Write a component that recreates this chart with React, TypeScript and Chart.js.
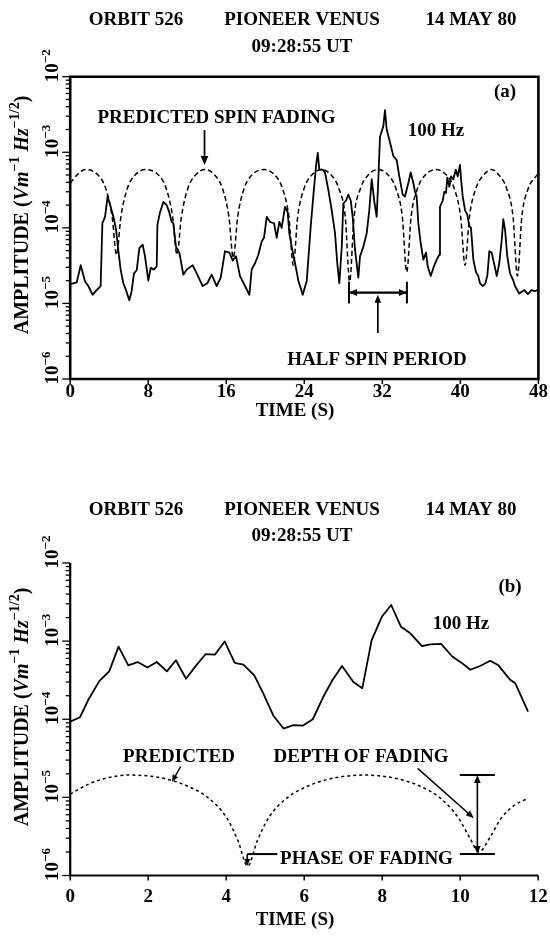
import { useEffect, useRef } from 'react';
import { Chart, registerables } from 'chart.js';

Chart.register(...registerables);

const SERIF = '"Liberation Serif", "Times New Roman", serif';

// ---------- panel (a): 100 Hz channel over 48 s ----------
const timeA = [
  0, 0.67, 1.08, 1.52, 1.86, 2.3, 2.71, 3.12, 3.3, 3.57,
  3.84, 4.15, 4.49, 4.7, 4.93, 5.17, 5.45, 5.72, 6.06, 6.3,
  6.54, 6.82, 7.09, 7.43, 7.67, 8.01, 8.25, 8.59, 8.87, 8.94,
  9.21, 9.55, 9.89, 10.16, 10.4, 10.57, 10.85, 11.19, 11.6, 11.94,
  12.55, 12.97, 13.58, 14.06, 14.5, 15.02, 15.43, 15.87, 16.32, 16.66,
  17.0, 17.41, 17.92, 18.37, 18.6, 18.95, 19.29, 19.63, 19.87, 20.15,
  20.48, 20.9, 21.17, 21.44, 21.68, 22.02, 22.3, 22.46, 22.71, 23.05,
  23.39, 23.84, 24.25, 24.66, 24.92, 25.2, 25.38, 25.54, 25.89, 26.12,
  26.46, 26.81, 27.15, 27.38, 27.59, 27.84, 28.0, 28.28, 28.51, 28.76,
  28.96, 29.2, 29.54, 29.71, 30.05, 30.4, 30.66, 30.91, 31.18, 31.42,
  31.59, 31.76, 32.1, 32.27, 32.45, 32.79, 33.13, 33.47, 33.74, 34.09,
  34.32, 34.66, 34.91, 35.18, 35.35, 35.52, 35.69, 35.93, 36.2, 36.48,
  36.65, 36.96, 37.23, 37.57, 37.84, 37.91, 38.19, 38.35, 38.53, 38.66,
  38.87, 39.04, 39.28, 39.52, 39.73, 39.96, 40.06, 40.24, 40.48, 40.71,
  40.92, 41.09, 41.33, 41.6, 41.84, 42.01, 42.29, 42.53, 42.76, 42.97,
  43.21, 43.45, 43.73, 43.99, 44.24, 44.4, 44.58, 44.81, 45.09, 45.43,
  45.6, 46.03, 46.57, 46.93, 47.28, 47.64, 47.9,
];
const ampA = [
  1.8e-5, 1.9e-5, 3.2e-5, 1.95e-5, 1.7e-5, 1.3e-5, 1.5e-5, 1.7e-5, 1.15e-4, 1.4e-4,
  2.6e-4, 1.9e-4, 1.3e-4, 9.5e-5, 5.1e-5, 2.8e-5, 1.85e-5, 1.5e-5, 1.1e-5, 1.45e-5,
  2.5e-5, 2.75e-5, 5.4e-5, 6.0e-5, 4.2e-5, 2.0e-5, 2.95e-5, 2.8e-5, 3.1e-5, 1.1e-4,
  1.6e-4, 2.2e-4, 2.0e-4, 1.6e-4, 1.2e-4, 1.15e-4, 5.6e-5, 4.7e-5, 2.4e-5, 2.8e-5,
  3.2e-5, 2.5e-5, 1.7e-5, 1.85e-5, 2.4e-5, 1.7e-5, 2.2e-5, 4.9e-5, 4.7e-5, 3.7e-5,
  4.2e-5, 2.3e-5, 1.7e-5, 1.3e-5, 2.8e-5, 3.4e-5, 4.4e-5, 6.6e-5, 7.4e-5, 1.4e-4,
  1.2e-4, 1.15e-4, 7.4e-5, 1.2e-4, 1.0e-4, 1.9e-4, 1.6e-4, 8.5e-5, 5.6e-5, 3.4e-5,
  2.0e-5, 1.3e-5, 2.0e-5, 1.05e-4, 2.6e-4, 6.5e-4, 9.8e-4, 5.9e-4, 5.9e-4, 5.4e-4,
  3.2e-4, 1.7e-4, 8.5e-5, 3.4e-5, 1.85e-5, 5.6e-5, 2.1e-4, 2.3e-4, 2.75e-4, 2.3e-4,
  1.4e-4, 5.1e-5, 2.2e-5, 4.2e-5, 5.6e-5, 8.5e-5, 1.7e-4, 4.4e-4, 2.2e-4, 1.4e-4,
  4.4e-4, 1.6e-3, 2.2e-3, 3.6e-3, 2.0e-3, 1.35e-3, 8.9e-4, 7.9e-4, 4.8e-4, 2.75e-4,
  2.6e-4, 3.9e-4, 5.4e-4, 3.9e-4, 3.0e-4, 2.6e-4, 1.15e-4, 6.3e-5, 3.8e-5, 4.7e-5,
  3.1e-5, 2.3e-5, 2.95e-5, 3.8e-5, 4.4e-5, 1.9e-4, 2.3e-4, 3.0e-4, 2.9e-4, 4.6e-4,
  3.5e-4, 4.8e-4, 4.4e-4, 5.9e-4, 4.8e-4, 6.8e-4, 4.6e-4, 2.6e-4, 1.7e-4, 1.5e-4,
  1.05e-4, 1.0e-4, 3.8e-5, 2.6e-5, 2.3e-5, 1.85e-5, 1.7e-5, 1.8e-5, 2.3e-5, 4.9e-5,
  4.7e-5, 3.4e-5, 2.3e-5, 3.4e-5, 6.9e-5, 1.3e-4, 9.5e-5, 4.2e-5, 2.5e-5, 2.0e-5,
  1.7e-5, 1.35e-5, 1.5e-5, 1.33e-5, 1.5e-5, 1.45e-5, 1.5e-5,
];
// predicted spin fading (a)
const spinTimeA = [
  0, 0.7, 1.52,
  2.85, 3.65, 4.3, 4.75, 5.2, 5.85, 6.65, 7.77,
  9.05, 9.85, 10.5, 10.95, 11.4, 12.05, 12.85, 13.82,
  14.82, 15.62, 16.27, 16.72, 17.17, 17.82, 18.62, 19.85,
  20.97, 21.77, 22.42, 22.87, 23.32, 23.97, 24.77, 25.8,
  26.75, 27.55, 28.2, 28.65, 29.1, 29.75, 30.55, 31.55,
  32.6, 33.4, 34.05, 34.5, 34.95, 35.6, 36.4, 37.45,
  38.58, 39.38, 40.03, 40.48, 40.93, 41.58, 42.38, 43.2,
  43.95, 44.75, 45.4, 45.85, 46.3, 46.95, 47.75, 48,
];
const spinAmpA = [
  3.9e-4, 5.0e-4, 5.9e-4,
  5.0e-4, 3.3e-4, 1.4e-4, 4.4e-5, 1.4e-4, 3.3e-4, 5.0e-4, 5.9e-4,
  5.0e-4, 3.3e-4, 1.4e-4, 4.4e-5, 1.4e-4, 3.3e-4, 5.0e-4, 5.9e-4,
  5.0e-4, 3.3e-4, 1.4e-4, 4.0e-5, 1.4e-4, 3.3e-4, 5.0e-4, 5.9e-4,
  5.0e-4, 3.3e-4, 1.4e-4, 3.2e-5, 1.4e-4, 3.3e-4, 5.0e-4, 5.9e-4,
  5.0e-4, 3.3e-4, 1.4e-4, 1.95e-5, 1.4e-4, 3.3e-4, 5.0e-4, 5.9e-4,
  5.0e-4, 3.3e-4, 1.4e-4, 2.6e-5, 1.4e-4, 3.3e-4, 5.0e-4, 5.9e-4,
  5.0e-4, 3.3e-4, 1.4e-4, 3.2e-5, 1.4e-4, 3.3e-4, 5.0e-4, 5.9e-4,
  5.0e-4, 3.3e-4, 1.4e-4, 2.3e-5, 1.4e-4, 3.3e-4, 4.8e-4, 5.2e-4,
];
const timeTicksA = [0, 8, 16, 24, 32, 40, 48];

// ---------- panel (b): first 12 s ----------
const timeB = [
  0, 0.25, 0.46, 0.75, 1.0, 1.24, 1.49, 1.73, 1.98, 2.22,
  2.48, 2.71, 2.97, 3.21, 3.47, 3.71, 3.96, 4.22, 4.44, 4.72,
  4.95, 5.21, 5.47, 5.72, 5.97, 6.22, 6.49, 6.73, 6.97, 7.26,
  7.49, 7.73, 7.99, 8.23, 8.48, 8.72, 9.02, 9.23, 9.51, 9.79,
  10.03, 10.26, 10.51, 10.77, 10.98, 11.28, 11.41, 11.74,
];
const ampB = [
  9.3e-5, 1.06e-4, 1.76e-4, 3.1e-4, 4.1e-4, 8.5e-4, 4.9e-4, 5.4e-4, 4.6e-4, 5.4e-4,
  4.1e-4, 5.7e-4, 3.3e-4, 4.75e-4, 6.8e-4, 6.7e-4, 9.9e-4, 5.25e-4, 5.0e-4, 3.65e-4,
  2.15e-4, 1.11e-4, 7.6e-5, 8.4e-5, 8.3e-5, 1.0e-4, 1.94e-4, 3.2e-4, 4.8e-4, 3.0e-4,
  2.5e-4, 1.03e-3, 2.05e-3, 2.9e-3, 1.53e-3, 1.26e-3, 8.65e-4, 9.1e-4, 9.2e-4, 6.4e-4,
  5.3e-4, 4.3e-4, 4.8e-4, 5.6e-4, 4.9e-4, 3.2e-4, 2.9e-4, 1.25e-4,
];
// predicted fading (b)
const spinTimeB = [
  0, 0.5, 1.0, 1.5, 2.0, 2.5, 3.0, 3.5, 4.0, 4.3,
  4.55, 4.8, 5.1, 5.6, 6.1, 6.6, 7.1, 7.55, 8.0, 8.5,
  9.0, 9.5, 9.95, 10.25, 10.48, 10.75, 11.05, 11.4, 11.74,
];
const spinAmpB = [
  1.1e-5, 1.5e-5, 1.8e-5, 1.93e-5, 1.88e-5, 1.7e-5, 1.4e-5, 1.02e-5, 5.6e-6, 2.8e-6,
  1.32e-6, 2.8e-6, 5.6e-6, 1.02e-5, 1.4e-5, 1.7e-5, 1.88e-5, 1.93e-5, 1.87e-5, 1.68e-5,
  1.37e-5, 9.7e-6, 5.5e-6, 3.0e-6, 2.0e-6, 3.0e-6, 5.4e-6, 8.0e-6, 9.7e-6,
];
const timeTicksB = [0, 2, 4, 6, 8, 10, 12];

const decadeExps = [-6, -5, -4, -3, -2];
const headerCells = ['ORBIT 526', 'PIONEER VENUS', '14 MAY 80'];
const headerTime = '09:28:55 UT';

// ---------- drawing helpers ----------
type Run = { s: string; it?: boolean; sup?: boolean };
type Px = (t: number) => number;
type Py = (v: number) => number;

const runFont = (r: Run, size: number) =>
  `${r.it ? 'italic ' : ''}bold ${r.sup ? Math.round(size * 0.68) : size}px ${SERIF}`;

function runsWidth(ctx: CanvasRenderingContext2D, runs: Run[], size: number) {
  let w = 0;
  for (const r of runs) {
    ctx.font = runFont(r, size);
    w += ctx.measureText(r.s).width;
  }
  return w;
}

function drawRuns(ctx: CanvasRenderingContext2D, runs: Run[], x: number, y: number, size: number) {
  ctx.textAlign = 'left';
  ctx.textBaseline = 'alphabetic';
  let cx = x;
  for (const r of runs) {
    ctx.font = runFont(r, size);
    ctx.fillText(r.s, cx, r.sup ? y - size * 0.45 : y);
    cx += ctx.measureText(r.s).width;
  }
}

function text(ctx: CanvasRenderingContext2D, s: string, x: number, y: number, size = 19) {
  ctx.font = `bold ${size}px ${SERIF}`;
  ctx.textAlign = 'center';
  ctx.textBaseline = 'middle';
  ctx.fillText(s, x, y);
}

function seg(ctx: CanvasRenderingContext2D, x1: number, y1: number, x2: number, y2: number) {
  ctx.beginPath();
  ctx.moveTo(x1, y1);
  ctx.lineTo(x2, y2);
  ctx.stroke();
}

function head(ctx: CanvasRenderingContext2D, fx: number, fy: number, tx: number, ty: number, len = 8, half = 3.3) {
  const a = Math.atan2(ty - fy, tx - fx);
  const c = Math.cos(a), s = Math.sin(a);
  ctx.beginPath();
  ctx.moveTo(tx, ty);
  ctx.lineTo(tx - len * c + half * s, ty - len * s - half * c);
  ctx.lineTo(tx - len * c - half * s, ty - len * s + half * c);
  ctx.closePath();
  ctx.fill();
}

function arrow(ctx: CanvasRenderingContext2D, fx: number, fy: number, tx: number, ty: number, len = 8, half = 3.3) {
  const a = Math.atan2(ty - fy, tx - fx);
  seg(ctx, fx, fy, tx - Math.cos(a) * len * 0.7, ty - Math.sin(a) * len * 0.7);
  head(ctx, fx, fy, tx, ty, len, half);
}

const ampTitle: Run[] = [
  { s: 'AMPLITUDE (' },
  { s: 'Vm', it: true },
  { s: '\u22121', sup: true },
  { s: ' ' },
  { s: 'Hz', it: true },
  { s: '\u22121/2', sup: true },
  { s: ')' },
];

interface PanelLook {
  headerY: number;
  boxed: boolean;
  frameWidth: number;
  timeTicks: number[];
  tickLabelY: number;
  timeTitleY: number;
  ampTitleY: number;
  notes: (ctx: CanvasRenderingContext2D, px: Px, py: Py) => void;
}

function panelDecor(look: PanelLook) {
  return {
    id: 'panelDecor',
    afterDraw(chart: Chart) {
      const ctx = chart.ctx;
      const area = chart.chartArea;
      const xs = chart.scales.x;
      const ys = chart.scales.y;
      const px: Px = (t) => xs.getPixelForValue(t);
      const py: Py = (v) => ys.getPixelForValue(v);
      ctx.save();
      ctx.fillStyle = '#000';
      ctx.strokeStyle = '#000';
      ctx.lineCap = 'butt';

      // header
      text(ctx, headerCells[0], 136, look.headerY);
      text(ctx, headerCells[1], 302, look.headerY);
      text(ctx, headerCells[2], 471, look.headerY);
      text(ctx, headerTime, 302, look.headerY + 26.7);

      // axis lines
      ctx.lineWidth = look.frameWidth;
      ctx.beginPath();
      if (look.boxed) {
        ctx.rect(area.left, area.top, area.right - area.left, area.bottom - area.top);
      } else {
        ctx.moveTo(area.left, area.top);
        ctx.lineTo(area.left, area.bottom);
        ctx.lineTo(area.right, area.bottom);
      }
      ctx.stroke();

      // log ticks on the amplitude axis
      ctx.lineWidth = 1.3;
      for (let e = -6; e <= -3; e++) {
        for (let k = 1; k <= 9; k++) {
          const y = py(k * Math.pow(10, e));
          seg(ctx, area.left - (k === 1 ? 8 : 4.5), y, area.left, y);
        }
      }
      seg(ctx, area.left - 8, py(1e-2), area.left, py(1e-2));

      // decade labels, rotated
      for (const e of decadeExps) {
        const y = py(Math.pow(10, e));
        ctx.save();
        ctx.translate(area.left - 12, y - 4);
        ctx.rotate(-Math.PI / 2);
        ctx.font = `bold 19px ${SERIF}`;
        const w10 = ctx.measureText('10').width;
        drawRuns(ctx, [{ s: '10' }, { s: '\u2212' + String(-e), sup: true }], -w10 / 2, 0, 19);
        ctx.restore();
      }

      // time ticks and labels
      ctx.lineWidth = 1.5;
      for (const t of look.timeTicks) {
        const x = px(t);
        seg(ctx, x, area.bottom, x, area.bottom + 5);
        text(ctx, String(t), x, look.tickLabelY);
      }
      text(ctx, 'TIME (S)', 295, look.timeTitleY);

      // amplitude axis title
      ctx.save();
      ctx.translate(28, look.ampTitleY);
      ctx.rotate(-Math.PI / 2);
      const tw = runsWidth(ctx, ampTitle, 20);
      drawRuns(ctx, ampTitle, -tw / 2, 0, 20);
      ctx.restore();

      look.notes(ctx, px, py);
      ctx.restore();
    },
  };
}

const lookA: PanelLook = {
  headerY: 20,
  boxed: true,
  frameWidth: 2.6,
  timeTicks: timeTicksA,
  tickLabelY: 392,
  timeTitleY: 411,
  ampTitleY: 215,
  notes: (ctx, px, py) => {
    text(ctx, '(a)', 505, 92);
    text(ctx, 'PREDICTED SPIN FADING', 216.5, 118.3);
    text(ctx, '100 Hz', 436, 131.5);
    text(ctx, 'HALF SPIN PERIOD', 377, 360);
    ctx.lineWidth = 1.8;
    arrow(ctx, px(13.77), py(1.97e-3), px(13.77), py(6.8e-4), 9, 3.8);
    const l = px(28.58);
    const r = px(34.52);
    const yb = py(1.39e-5);
    ctx.lineWidth = 2;
    seg(ctx, l, py(1.94e-5), l, py(1.0e-5));
    seg(ctx, r, py(1.94e-5), r, py(1.0e-5));
    ctx.lineWidth = 2.2;
    seg(ctx, l, yb, r, yb);
    head(ctx, r, yb, l, yb, 8, 3.5);
    head(ctx, l, yb, r, yb, 8, 3.5);
    ctx.lineWidth = 1.8;
    arrow(ctx, px(31.54), py(4.06e-6), px(31.54), py(1.3e-5), 8, 3.3);
  },
};

const lookB: PanelLook = {
  headerY: 39.8,
  boxed: false,
  frameWidth: 2.2,
  timeTicks: timeTicksB,
  tickLabelY: 426.7,
  timeTitleY: 450,
  ampTitleY: 237,
  notes: (ctx, px, py) => {
    text(ctx, '(b)', 510, 117.5);
    text(ctx, '100 Hz', 461, 154);
    text(ctx, 'PREDICTED', 179, 286.7);
    text(ctx, 'DEPTH OF FADING', 361, 286.7);
    text(ctx, 'PHASE OF FADING', 366.5, 389);
    ctx.lineWidth = 1.4;
    arrow(ctx, px(2.83), py(2.47e-5), px(2.61), py(1.58e-5), 7, 3);
    ctx.lineWidth = 1.5;
    arrow(ctx, px(8.91), py(2.35e-5), px(10.35), py(5.4e-6), 8, 3.2);
    // depth of fading bracket
    ctx.lineWidth = 2;
    seg(ctx, px(9.99), py(1.93e-5), px(10.89), py(1.93e-5));
    seg(ctx, px(9.99), py(1.88e-6), px(10.89), py(1.88e-6));
    ctx.lineWidth = 1.6;
    const xd = px(10.44);
    const yTop = py(1.93e-5);
    const yBot = py(1.88e-6);
    seg(ctx, xd, yTop + 5, xd, yBot - 5);
    head(ctx, xd, yBot, xd, yTop, 8, 3.3);
    head(ctx, xd, yTop, xd, yBot, 8, 3.3);
    // phase of fading marker
    ctx.lineWidth = 2;
    seg(ctx, px(4.54), py(1.88e-6), px(5.31), py(1.88e-6));
    ctx.lineWidth = 1.6;
    arrow(ctx, px(4.54), py(1.88e-6), px(4.54), py(1.32e-6), 7, 3);
  },
};

function chartConfig(
  t: number[], v: number[], st: number[], sv: number[],
  xMax: number, padding: { left: number; right: number; top: number; bottom: number },
  dash: number[], look: PanelLook,
) {
  return {
    type: 'line' as const,
    data: {
      datasets: [
        {
          data: t.map((x, i) => ({ x, y: v[i] })),
          borderColor: '#000',
          borderWidth: 1.8,
          pointRadius: 0,
          tension: 0,
          borderJoinStyle: 'round' as const,
        },
        {
          data: st.map((x, i) => ({ x, y: sv[i] })),
          borderColor: '#000',
          borderWidth: 1.5,
          borderDash: dash,
          pointRadius: 0,
          cubicInterpolationMode: 'monotone' as const,
        },
      ],
    },
    options: {
      animation: false as const,
      responsive: false,
      devicePixelRatio: 1,
      events: [],
      layout: { padding },
      plugins: { legend: { display: false }, tooltip: { enabled: false } },
      scales: {
        x: { type: 'linear' as const, min: 0, max: xMax, display: false },
        y: { type: 'logarithmic' as const, min: 1e-6, max: 1e-2, display: false },
      },
    },
    plugins: [panelDecor(look)],
  };
}

export default function App() {
  const refA = useRef<HTMLCanvasElement>(null);
  const refB = useRef<HTMLCanvasElement>(null);

  useEffect(() => {
    const chartA = new Chart(
      refA.current!,
      chartConfig(timeA, ampA, spinTimeA, spinAmpA, 48,
        { left: 70.2, right: 11.6, top: 76.7, bottom: 61 }, [5, 3], lookA) as any,
    );
    const chartB = new Chart(
      refB.current!,
      chartConfig(timeB, ampB, spinTimeB, spinAmpB, 12,
        { left: 70.2, right: 11.8, top: 93, bottom: 65.5 }, [3, 3], lookB) as any,
    );
    return () => {
      chartA.destroy();
      chartB.destroy();
    };
  }, []);

  return (
    <div style={{ position: 'fixed', left: 0, top: 0, width: 550, height: 941, background: '#fff' }}>
      <canvas ref={refA} width={550} height={440}
        style={{ position: 'absolute', left: 0, top: 0, width: 550, height: 440 }} />
      <canvas ref={refB} width={550} height={471}
        style={{ position: 'absolute', left: 0, top: 470, width: 550, height: 471 }} />
    </div>
  );
}
